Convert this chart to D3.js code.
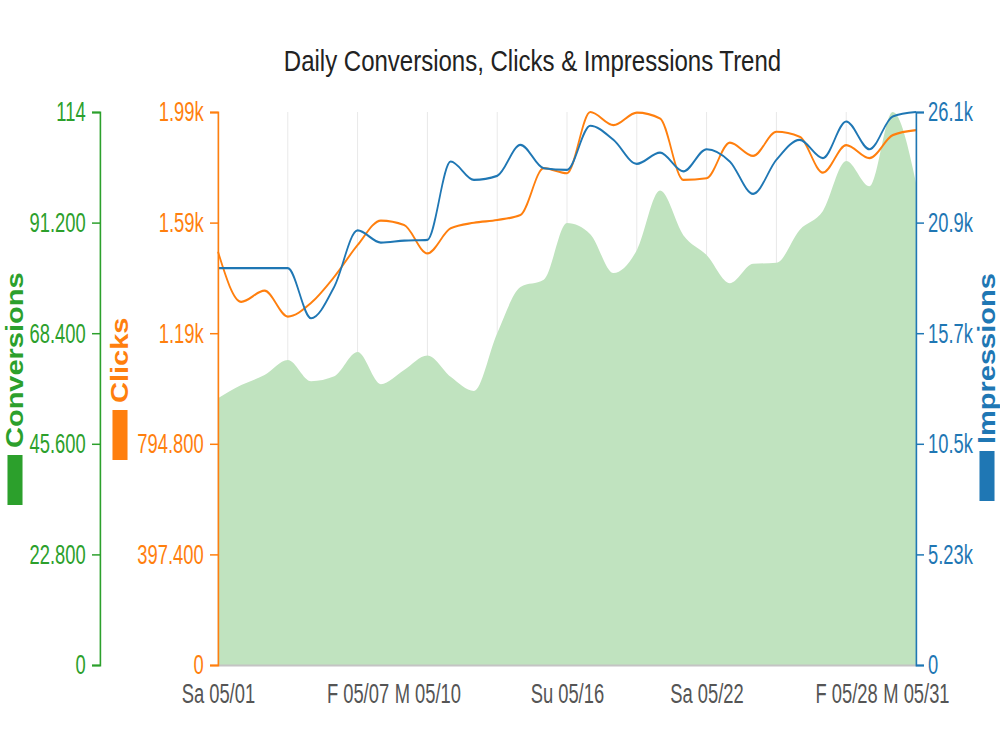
<!DOCTYPE html>
<html>
<head>
<meta charset="utf-8">
<script src="https://cdn.jsdelivr.net/npm/d3@7"></script>
<style>
  body { margin: 0; background: #fff; }
  text { font-family: "Liberation Sans", Arial, sans-serif; }
</style>
</head>
<body>
<div id="chart"></div>
<script>
// daily values, 05/01 .. 05/31
const startDate = "2021-05-01";
const endDate = "2021-05-31";
const tickDates = ["2021-05-01", "2021-05-07", "2021-05-10", "2021-05-16", "2021-05-22", "2021-05-28", "2021-05-31"];
const dayNames = ["Su", "M", "Tu", "W", "Th", "F", "Sa"];

const conversions = [55.0, 57.7, 59.8, 62.9, 58.5, 59.5, 64.5, 57.9, 60.8, 63.8, 59.4, 56.5, 68.4, 77.9, 79.4, 91.1,
  88.8, 80.8, 85.5, 97.8, 88.6, 84.5, 78.7, 82.7, 82.9, 89.7, 93.6, 103.9, 98.7, 114, 99.4];
const clicks = [1485, 1305, 1345, 1252, 1301, 1395, 1509, 1597, 1581, 1479, 1569, 1589, 1599, 1617, 1785, 1767,
  1987, 1940, 1985, 1964, 1743, 1749, 1877, 1829, 1916, 1898, 1769, 1868, 1821, 1904, 1922];
const impressions = [18760, 18760, 18760, 18760, 16390, 17890, 20540, 19970, 20060, 20100, 23800, 22930, 23120, 24590, 23480, 23400,
  25490, 24820, 23690, 24220, 23330, 24380, 23800, 22270, 23880, 24820, 23960, 25690, 24380, 25930, 26140];

const colors = { conv: "#2ca02c", clicks: "#ff7f0e", impr: "#1f77b4" };

function drawChart(id) {
  // the whole picture is horizontally squeezed, so draw wide and scale down
  const squeeze = 0.8;
  const narrow = 0.82; // tick labels use a narrow face
  const left = 218 / squeeze, right = 916 / squeeze, top = 112, bottom = 665;

  const parse = d3.timeParse("%Y-%m-%d");
  const dates = d3.timeDay.range(parse(startDate), d3.timeDay.offset(parse(endDate), 1));
  const rows = dates.map((d, i) => ({ date: d, conv: conversions[i], clicks: clicks[i], impr: impressions[i] }));

  const svg = d3.select(`#${id}`).append("svg").attr("width", 1000).attr("height", 750);
  const g = svg.append("g").attr("transform", `scale(${squeeze},1)`);

  const x = d3.scaleTime().domain(d3.extent(dates)).range([left, right]);
  const yConv = d3.scaleLinear().domain([0, d3.max(conversions)]).range([bottom, top]);
  const yClicks = d3.scaleLinear().domain([0, d3.max(clicks)]).range([bottom, top]);
  const yImpr = d3.scaleLinear().domain([0, d3.max(impressions)]).range([bottom, top]);

  // tick label format: 22.800, 1.19k, 0, 114
  const fmt = (v) => v >= 1000 ? d3.format(".3s")(v) : (Number.isInteger(v) ? String(v) : v.toFixed(3));
  const six = (s) => d3.range(6).map((i) => s.domain()[1] * i / 5);

  // title
  g.append("text")
    .attr("x", 532.5 / squeeze)
    .attr("y", 71)
    .attr("text-anchor", "middle")
    .attr("font-size", 30)
    .attr("fill", "#222")
    .text("Daily Conversions, Clicks & Impressions Trend");

  // vertical gridlines every 3 days
  g.append("g")
    .selectAll("line")
    .data(dates.filter((d, i) => i % 3 === 0))
    .join("line")
    .attr("x1", (d) => x(d)).attr("x2", (d) => x(d))
    .attr("y1", top).attr("y2", bottom)
    .attr("stroke", "#e8e8e8")
    .attr("stroke-width", 1.2);

  // conversions area
  const area = d3.area()
    .curve(d3.curveMonotoneX)
    .x((d) => x(d.date))
    .y0(bottom)
    .y1((d) => yConv(d.conv));
  g.append("path").datum(rows).attr("d", area).attr("fill", "#c0e3bf");

  // x axis
  const xAxis = g.append("g")
    .attr("transform", `translate(0,${bottom})`)
    .call(d3.axisBottom(x)
      .tickValues(tickDates.map(parse))
      .tickSize(0)
      .tickPadding(18)
      .tickFormat((d) => `${dayNames[d.getDay()]} ${d3.timeFormat("%m/%d")(d)}`));
  xAxis.select(".domain").attr("stroke", "#c4c4c4").attr("stroke-width", 2);
  xAxis.selectAll("text")
    .attr("font-size", 28).attr("fill", "#555").attr("font-family", null)
    .attr("transform", `scale(${narrow},1)`);

  // lines
  const lineClicks = d3.line().curve(d3.curveMonotoneX).x((d) => x(d.date)).y((d) => yClicks(d.clicks));
  const lineImpr = d3.line().curve(d3.curveMonotoneX).x((d) => x(d.date)).y((d) => yImpr(d.impr));
  g.append("path").datum(rows).attr("d", lineClicks)
    .attr("fill", "none").attr("stroke", colors.clicks).attr("stroke-width", 2.2);
  g.append("path").datum(rows).attr("d", lineImpr)
    .attr("fill", "none").attr("stroke", colors.impr).attr("stroke-width", 2.2);

  // y axes
  function styleAxis(sel, color, gap) {
    sel.select(".domain").attr("stroke", color).attr("stroke-width", 2);
    sel.selectAll(".tick line").attr("stroke", color).attr("stroke-width", 1.5);
    sel.selectAll(".tick text")
      .attr("fill", color).attr("font-size", 28).attr("font-family", null)
      .attr("x", null)
      .attr("transform", `translate(${gap},0) scale(${narrow},1)`);
  }
  styleAxis(g.append("g").attr("transform", `translate(${100 / squeeze},0)`)
    .call(d3.axisLeft(yConv).tickValues(six(yConv)).tickFormat(fmt).tickSize(10)), colors.conv, -18);
  styleAxis(g.append("g").attr("transform", `translate(${left},0)`)
    .call(d3.axisLeft(yClicks).tickValues(six(yClicks)).tickFormat(fmt).tickSize(10)), colors.clicks, -18);
  styleAxis(g.append("g").attr("transform", `translate(${right},0)`)
    .call(d3.axisRight(yImpr).tickValues(six(yImpr)).tickFormat(fmt).tickSize(10)), colors.impr, 15);

  // rotated axis legends: swatch at the bottom, name going up
  const legends = [
    { name: "Conversions", color: colors.conv, cx: 15, y: 505 },
    { name: "Clicks", color: colors.clicks, cx: 120, y: 460 },
    { name: "Impressions", color: colors.impr, cx: 987, y: 501 },
  ];
  legends.forEach((l) => {
    const lg = g.append("g").attr("transform", `translate(${l.cx / squeeze},${l.y}) rotate(-90)`);
    lg.append("rect").attr("x", 0).attr("y", -9.4).attr("width", 50).attr("height", 18.8).attr("fill", l.color);
    lg.append("text")
      .attr("x", 57)
      .attr("dy", "0.36em")
      .attr("font-size", 29)
      .attr("font-weight", "bold")
      .attr("fill", l.color)
      .text(l.name);
  });
}

document.addEventListener("DOMContentLoaded", function () {
  drawChart("chart");
});
</script>
</body>
</html>
